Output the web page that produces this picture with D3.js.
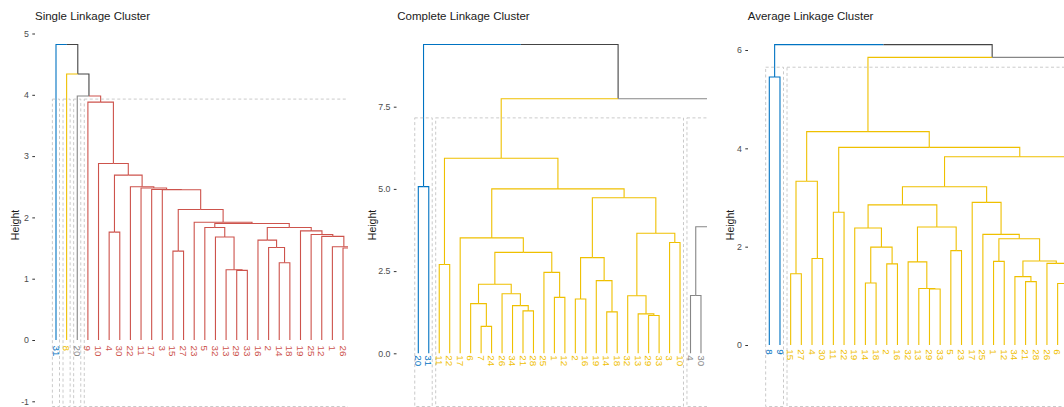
<!DOCTYPE html>
<html><head><meta charset="utf-8">
<script src="https://cdn.jsdelivr.net/npm/d3@7"></script>
<style>
body{margin:0;background:#fff}
svg{display:block}
text{font-family:"Liberation Sans",Arial,sans-serif}
</style>
</head><body>
<svg id="c" width="1064" height="407"></svg>
<script>
// ---- data: merge tables [node, height, left, right] (numbers = observation labels) ----
const singleMerges = [
  ["s1",1.135,29,33],["s2",1.145,13,"s1"],["s3",1.68,32,"s2"],["s4",1.835,5,"s3"],
  ["s5",1.26,14,18],["s6",1.51,2,"s5"],["s7",1.63,16,"s6"],
  ["s8",1.29,21,28],["s9",1.35,34,"s8"],["s10",0.82,7,24],["s11",1.38,"s10","s9"],
  ["s12",1.45,6,"s11"],["s13",1.50,26,"s12"],["s14",1.52,1,"s13"],["s15",1.69,12,"s14"],
  ["s16",1.72,25,"s15"],["s17",1.78,19,"s16"],["s18",1.835,"s7","s17"],["s19",1.90,"s4","s18"],
  ["s20",1.92,23,"s19"],["s21",1.45,15,27],["s22",2.13,"s21","s20"],["s23",2.45,3,"s22"],
  ["s24",2.455,17,"s23"],["s25",2.48,11,"s24"],["s26",2.50,22,"s25"],["s27",1.76,4,30],
  ["s28",2.69,"s27","s26"],["s29",2.88,10,"s28"],["s30",3.88,9,"s29"],["s31",3.98,20,"s30"],
  ["s32",4.34,8,"s31"],["s33",4.82,31,"s32"]
];
const completeMerges = [
  ["c1",5.07,20,31],["c2",2.70,11,22],["c3",0.82,7,24],["c4",1.51,6,"c3"],
  ["c5",1.29,21,28],["c6",1.45,34,"c5"],["c7",1.81,26,"c6"],["c8",2.10,"c4","c7"],
  ["c9",1.70,1,12],["c10",2.46,25,"c9"],["c11",3.07,"c8","c10"],["c12",3.51,17,"c11"],
  ["c13",1.65,2,16],["c14",1.26,14,18],["c15",2.21,19,"c14"],["c16",2.91,"c13","c15"],
  ["c17",1.15,29,33],["c18",1.20,13,"c17"],["c19",1.75,32,"c18"],["c20",3.37,3,10],
  ["c21",3.65,"c19","c20"],["c22",4.73,"c16","c21"],["c23",5.00,"c12","c22"],["c24",5.93,"c2","c23"],
  ["c25",1.76,4,30],["c26",1.45,15,27],["c27",1.92,5,23],["c28",2.60,"c26","c27"],
  ["c29",3.85,"c25","c28"],["c30",5.45,8,9],["c31",6.58,"c29","c30"],["c32",7.74,"c24","c31"],
  ["c33",9.39,"c1","c32"]
];
const averageMerges = [
  ["a1",5.45,8,9],["a2",1.45,15,27],["a3",1.76,4,30],["a4",3.33,"a2","a3"],
  ["a5",2.70,11,22],["a6",1.26,14,18],["a7",1.65,2,16],["a8",1.99,"a6","a7"],
  ["a9",2.38,19,"a8"],["a10",1.14,29,33],["a11",1.15,13,"a10"],["a12",1.69,32,"a11"],
  ["a13",1.92,5,23],["a14",2.40,"a12","a13"],["a15",2.85,"a9","a14"],["a16",1.70,1,12],
  ["a17",1.29,21,28],["a18",1.39,34,"a17"],["a19",0.82,7,24],["a20",1.25,6,"a19"],
  ["a21",1.66,26,"a20"],["a22",1.71,"a18","a21"],["a23",2.16,"a16","a22"],["a24",2.25,25,"a23"],
  ["a25",2.90,17,"a24"],["a26",3.22,"a15","a25"],["a27",3.37,3,10],["a28",3.83,"a26","a27"],
  ["a29",4.02,"a5","a28"],["a30",4.34,"a4","a29"],["a31",5.07,20,31],["a32",5.85,"a30","a31"],
  ["a33",6.11,"a1","a32"]
];
const titles = ["Single Linkage Cluster","Complete Linkage Cluster","Average Linkage Cluster"];
const clusterCounts = [4,3,3];
const singleTicks = [-1,0,1,2,3,4,5];
const completeTicks = [0,2.5,5,7.5];
const averageTicks = [0,2,4,6];
const palette = ["#0073C2","#EFC000","#868686","#CD534C"];

// ---- layout ----
const panels = [
  {merges:singleMerges, title:titles[0], k:clusterCounts[0], ticks:singleTicks, fmt:d=>d.toFixed(0),
   axisX:35, xRange:[56,406.8], yDomain:[0,5], yRange:[340,33.5], clip:[36,348], labelGap:5.5,
   titleX:35, heightX:15},
  {merges:completeMerges, title:titles[1], k:clusterCounts[1], ticks:completeTicks, fmt:d=>d.toFixed(1),
   axisX:396.5, xRange:[418.3,763.8], yDomain:[0,7.5], yRange:[353.3,106.7], clip:[398,707], labelGap:2,
   titleX:397.3, heightX:372.7},
  {merges:averageMerges, title:titles[2], k:clusterCounts[2], ticks:averageTicks, fmt:d=>d.toFixed(0),
   axisX:748, xRange:[769.3,1121.7], yDomain:[0,6], yRange:[345,50], clip:[749,1064], labelGap:4.3,
   titleX:747.7, heightX:730.3}
];
const rectBottom = 406.5;
const upperColor = "#444";
const svg = d3.select("#c");
const defs = svg.append("defs");

panels.forEach((p, pi) => {
  const byName = {};
  p.merges.forEach(([name, h, l, r]) => {
    byName[name] = {name, h, children:[l, r].map(c => typeof c === "number" ? {name:String(c), h:0} : byName[c])};
  });
  const root = d3.hierarchy(byName[p.merges[p.merges.length-1][0]]);
  const leaves = root.leaves();
  const x = d3.scalePoint().domain(leaves.map(d => d.data.name)).range(p.xRange);
  const y = d3.scaleLinear().domain(p.yDomain).range(p.yRange);
  root.eachAfter(n => { n.x = n.children ? d3.mean(n.children, c => c.x) : x(n.data.name); });

  const hs = p.merges.map(m => m[1]).sort((a,b) => b - a);
  const cut = (hs[p.k-2] + hs[p.k-1]) / 2;
  const clusters = [];
  root.each(n => { if (n.data.h < cut && (!n.parent || n.parent.data.h >= cut)) clusters.push(n); });
  clusters.sort((a,b) => leaves.indexOf(a.leaves()[0]) - leaves.indexOf(b.leaves()[0]));
  root.each(n => { n.color = upperColor; });
  clusters.forEach((c, i) => c.each(n => { n.color = palette[i]; }));

  defs.append("clipPath").attr("id", "clip" + pi).append("rect")
    .attr("x", p.clip[0]).attr("y", 0).attr("width", p.clip[1] - p.clip[0]).attr("height", 407);
  const g = svg.append("g").attr("clip-path", `url(#clip${pi})`);

  g.selectAll("path.br").data(root.descendants().filter(n => n.parent)).join("path")
    .attr("class", "br")
    .attr("d", n => `M${n.parent.x},${y(n.parent.data.h)}H${n.x}V${y(n.data.h)}`)
    .attr("fill", "none").attr("stroke", n => n.color).attr("stroke-width", 1.1);

  const step = x.step();
  g.selectAll("rect.cl").data(clusters).join("rect")
    .attr("class", "cl")
    .attr("x", c => x(c.leaves()[0].data.name) - 0.34 * step)
    .attr("width", c => x(c.leaves()[c.leaves().length-1].data.name) + 0.33 * step - (x(c.leaves()[0].data.name) - 0.34 * step))
    .attr("y", y(cut)).attr("height", rectBottom - y(cut))
    .attr("fill", "none").attr("stroke", "#c4c4c4").attr("stroke-width", 0.9)
    .attr("stroke-dasharray", "3,2.5");

  // labels of leaves that fall outside the visible (clipped) panel are not drawn
  g.selectAll("text.lbl").data(leaves.filter(d => d.x + 3 <= p.clip[1])).join("text")
    .attr("class", "lbl")
    .attr("transform", d => `translate(${d.x},${y(0) + p.labelGap}) rotate(90)`)
    .attr("dy", "0.35em").attr("font-size", 9.8).attr("fill", d => d.color)
    .text(d => d.data.name);

  const ax = svg.append("g").attr("transform", `translate(${p.axisX},0)`)
    .call(d3.axisLeft(y).tickValues(p.ticks).tickSize(2.7).tickPadding(3.3).tickFormat(p.fmt));
  ax.select(".domain").remove();
  ax.attr("font-family", null).attr("font-size", null);
  ax.selectAll("line").attr("stroke", "#333");
  ax.selectAll("text").attr("fill", "#4d4d4d").attr("font-size", 8.8);

  svg.append("text").attr("x", p.titleX).attr("y", 19.5).attr("font-size", 11.5).attr("fill", "#1a1a1a")
    .text(p.title);
  svg.append("text").attr("transform", `translate(${p.heightX},225) rotate(-90)`)
    .attr("dy", "0.35em").attr("text-anchor", "middle").attr("font-size", 10.5).attr("fill", "#1a1a1a")
    .text("Height");
});
</script>
</body></html>
